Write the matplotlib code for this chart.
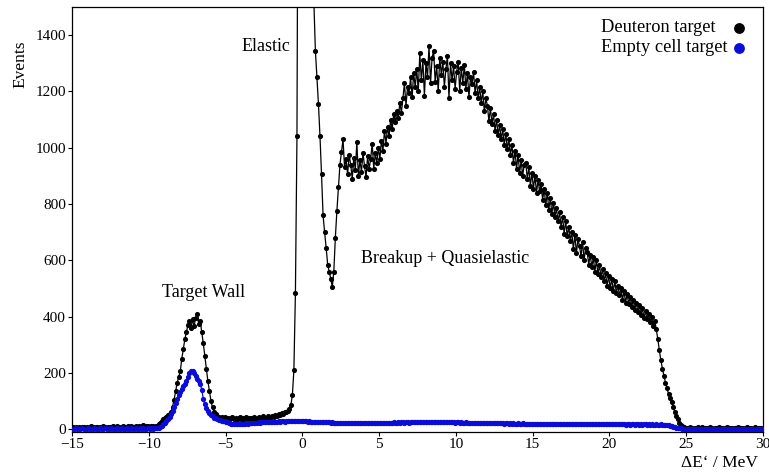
import numpy as np
import matplotlib
matplotlib.use("Agg")
import matplotlib.pyplot as plt
from matplotlib.lines import Line2D

plt.rcParams['font.family'] = ['Liberation Serif', 'DejaVu Serif']

# Histogram: 0.1 MeV bins from -15 to 30 MeV (450 bins)
E_MIN, BIN_W = -15.0, 0.1

# ---- Deuteron target counts per bin ----
deut_low = [6, 4, 8, 5, 7, 3, 9, 6, 5, 8,
            4, 7, 10, 6, 5, 9, 7, 4, 8, 6,
            11, 7, 5, 9, 6, 8, 12, 7, 6, 10,
            8, 5, 9, 11, 7, 6, 13, 8, 10, 7,
            9, 12, 8, 11, 7, 10, 14, 9, 12, 10,
            8, 13, 11, 9, 12]
deut_wall = [12, 18, 22, 28, 35, 38, 45, 50, 55, 62,
             80, 105, 135, 165, 185, 205, 250, 285, 320, 345,
             370, 385, 360, 390, 365, 395, 410, 375, 385, 345,
             305, 260, 215, 170, 135, 100, 78, 62, 55, 48,
             45, 40, 42, 38, 44]
deut_mid = [36, 41, 33, 38, 44, 35, 40, 32, 39, 42,
            34, 40, 37, 45, 36, 41, 38, 33, 43, 39,
            37, 44, 40, 35, 46, 41, 38, 47, 42, 45,
            48, 44, 52, 47, 55, 50, 58, 54, 62, 60,
            66, 70, 85, 120, 210, 485]
deut_elastic = [1040, 2600, 5200, 8100, 9400, 8700, 6600, 4400, 3000, 2150,
                1700, 1520, 1345, 1250, 1155, 1040, 905, 760, 700, 645,
                585, 560, 535, 505, 560, 680, 775, 860, 940]
deut_breakup = [985, 1030, 930, 960, 905, 975, 940, 890, 965, 920,
                1020, 900, 955, 915, 980, 935, 895, 970, 925, 960,
                1015, 925, 980, 945, 1000, 960, 1025, 990, 1060, 1015,
                1075, 1040, 1100, 1065, 1120, 1090, 1130, 1105, 1160, 1125,
                1175, 1230, 1150, 1215, 1195, 1250, 1180, 1265, 1215, 1280,
                1200, 1335, 1240, 1310, 1185, 1300, 1250, 1360, 1230, 1320,
                1345, 1235, 1290, 1200, 1320, 1260, 1305, 1215, 1280, 1325,
                1175, 1300, 1240, 1290, 1210, 1270, 1305, 1200, 1285, 1230,
                1295, 1210, 1265, 1180, 1250, 1225, 1270, 1195, 1240, 1175,
                1215, 1160, 1200, 1130, 1175, 1150, 1095, 1140, 1085, 1120,
                1060, 1100, 1045, 1080, 1030, 1065, 1010, 1050, 995, 1030,
                975, 1010, 945, 990, 925, 975, 910, 955, 900, 940,
                945, 890, 930, 865, 910, 855, 900, 840, 885, 845,
                870, 815, 855, 795, 840, 780, 820, 765, 805, 755,
                785, 740, 770, 720, 755, 695, 740, 685, 720, 670,
                700, 640, 690, 625, 675, 650, 615, 665, 600, 645,
                630, 585, 620, 575, 610, 560, 600, 550, 585, 540,
                570, 525, 555, 510, 545, 500, 535, 490, 525, 485,
                510, 475, 500, 460, 490, 450, 480, 445, 470, 435,
                460, 425, 450, 415, 440, 405, 430, 395, 420, 390,
                410, 380, 400, 365, 385, 355, 320, 280, 245, 215,
                190, 165, 145, 125, 110, 95, 80, 62, 48, 35,
                22, 15, 10, 7, 5]
deut_tail = [5, 3, 6, 4, 2, 5, 3, 7, 4, 3,
             6, 2, 4, 5, 3, 6, 4, 2, 5, 3,
             4, 6, 3, 5, 2, 4, 7, 3, 5, 4,
             2, 5, 3, 6, 4, 3, 5, 2, 4, 6,
             3, 5, 4, 2, 6, 3, 4, 5, 3, 2]

# ---- Empty cell target counts per bin ----
empty_low = [2, 1, 3, 2, 2, 1, 3, 2, 1, 2,
             3, 2, 1, 2, 3, 2, 2, 1, 3, 2,
             2, 3, 1, 2, 2, 3, 2, 1, 2, 3,
             2, 2, 3, 1, 2, 3, 2, 2, 3, 2,
             1, 3, 2, 2, 3, 2, 3, 2, 2, 3,
             2, 3, 2, 3, 3]
empty_wall = [3, 5, 8, 12, 17, 22, 28, 36, 45, 55,
              66, 78, 92, 106, 120, 132, 142, 152, 162, 172,
              185, 198, 205, 208, 200, 188, 178, 172, 162, 140,
              108, 88, 75, 65, 57, 51, 46, 41, 38, 35,
              33, 31, 30, 29, 28]
empty_mid = [26, 24, 22, 20, 19, 18, 18, 17, 18, 18,
             19, 19, 20, 21, 20, 21, 22, 22, 23, 22,
             23, 24, 23, 24, 25, 24, 25, 25, 26, 25,
             26, 27, 26, 27, 28, 27, 28, 28, 27, 29,
             28, 29, 29, 28, 30, 29]
empty_elastic = [29, 28, 30, 29, 28, 29, 28, 27, 28, 27,
                 27, 26, 27, 26, 25, 26, 25, 25, 24, 25,
                 24, 24, 23, 24, 23, 23, 22, 23, 22]
empty_breakup = [22, 21, 22, 21, 22, 21, 21, 22, 21, 22,
                 21, 22, 21, 22, 22, 21, 22, 22, 21, 22,
                 22, 22, 23, 22, 22, 23, 22, 23, 23, 22,
                 23, 23, 22, 23, 24, 23, 23, 24, 23, 24,
                 24, 23, 24, 24, 23, 24, 25, 24, 24, 25,
                 24, 25, 24, 25, 25, 24, 25, 24, 25, 25,
                 25, 24, 25, 25, 24, 25, 24, 25, 24, 24,
                 24, 25, 24, 24, 23, 24, 24, 23, 24, 23,
                 23, 24, 23, 23, 22, 23, 23, 22, 23, 22,
                 22, 23, 22, 22, 21, 22, 22, 21, 22, 21,
                 21, 22, 21, 21, 22, 21, 20, 21, 21, 20,
                 21, 20, 21, 20, 20, 21, 20, 20, 21, 20,
                 20, 20, 19, 20, 20, 19, 20, 19, 20, 19,
                 20, 19, 19, 20, 19, 19, 20, 19, 19, 18,
                 19, 19, 18, 19, 19, 18, 19, 18, 19, 18,
                 18, 19, 18, 18, 19, 18, 18, 17, 18, 18,
                 18, 17, 18, 18, 17, 18, 17, 18, 17, 18,
                 17, 18, 17, 17, 18, 17, 17, 18, 17, 17,
                 17, 17, 18, 17, 17, 16, 17, 17, 16, 17,
                 17, 16, 17, 17, 16, 17, 16, 17, 17, 16,
                 17, 16, 17, 16, 16, 17, 16, 16, 17, 16,
                 16, 16, 15, 14, 12, 10, 8, 7, 5, 4,
                 3, 3, 2, 2, 2]
empty_tail = [2, 1, 2, 2, 1, 2, 1, 2, 2, 1,
              2, 1, 2, 1, 2, 2, 1, 2, 1, 2,
              1, 2, 2, 1, 2, 1, 2, 2, 1, 2,
              2, 1, 2, 1, 2, 2, 1, 2, 1, 2,
              1, 2, 2, 1, 2, 1, 2, 2, 1, 2]

series_names = ['Deuteron target', 'Empty cell target']

deuteron = np.array(deut_low + deut_wall + deut_mid + deut_elastic
                    + deut_breakup + deut_tail, dtype=float)
empty = np.array(empty_low + empty_wall + empty_mid + empty_elastic
                 + empty_breakup + empty_tail, dtype=float)

x_d = E_MIN + BIN_W * (np.arange(len(deuteron)) + 0.5)
x_e = E_MIN + BIN_W * (np.arange(len(empty)) + 0.5)

W, H = 769, 474
BLUE = '#0c0cd8'
fig = plt.figure(figsize=(W / 100, H / 100), dpi=100)
ax = fig.add_axes([72 / W, 42 / H, 691 / W, 425 / H])

ax.plot(x_d, deuteron, '-o', color='black', lw=0.9, ms=3.7, mew=0, zorder=2)
ax.plot(x_e, empty, '-o', color=BLUE, lw=0.9, ms=3.8, mew=0, zorder=3)

ax.set_xlim(-15, 30)
ax.set_ylim(-10, 1500)
ax.set_xticks(np.arange(-15, 31, 5))
ax.set_yticks(np.arange(0, 1401, 200))
ax.tick_params(axis='both', direction='out', length=3, width=0.8,
               labelsize=11, pad=1.5, colors='black')
for sp in ax.spines.values():
    sp.set_linewidth(0.9)
    sp.set_color('black')

# Region annotations
ax.text(-2.37, 1358, 'Elastic', ha='center', va='center', fontsize=13)
ax.text(-6.40, 487, 'Target Wall', ha='center', va='center', fontsize=13)
ax.text(9.29, 608, 'Breakup + Quasielastic', ha='center', va='center',
        fontsize=13)

# Axis titles
fig.text(20 / W, 1 - 64 / H, 'Events', rotation=90, ha='center', va='center',
         fontsize=12.5)
fig.text(758 / W, 1 - 463 / H, 'ΔE‘ / MeV', ha='right', va='center',
         fontsize=12.5)

# Legend: left-aligned labels with the marker to their right
for label, color, ypx in zip(series_names, ['black', BLUE], [28, 48]):
    fig.text(601 / W, 1 - ypx / H, label, ha='left', va='center',
             fontsize=13.2)
    fig.add_artist(Line2D([738.5 / W], [1 - ypx / H], ls='none', marker='o',
                          color=color, ms=7.8, mew=0,
                          transform=fig.transFigure))

fig.savefig('out.png', dpi=100)
